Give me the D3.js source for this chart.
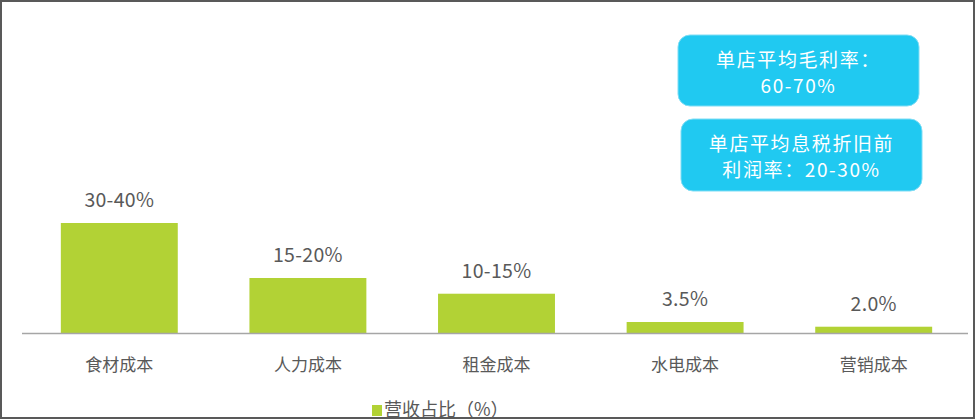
<!DOCTYPE html>
<html>
<head>
<meta charset="utf-8">
<script src="https://cdn.jsdelivr.net/npm/d3@7"></script>
<style>
  html, body { margin: 0; padding: 0; background: #fff; }
  svg { display: block; font-family: "Noto Sans CJK SC", "Noto Sans", sans-serif; }
</style>
</head>
<body>
<svg id="chart" width="977" height="420"></svg>
<script>
const categories = ["食材成本", "人力成本", "租金成本", "水电成本", "营销成本"];
const values = [35, 17.5, 12.5, 3.5, 2.0];
const valueLabels = ["30-40%", "15-20%", "10-15%", "3.5%", "2.0%"];
const seriesName = "营收占比（%）";
const noteLines = [["单店平均毛利率：", "60-70%"], ["单店平均息税折旧前", "利润率：20-30%"]];

const svg = d3.select("#chart");
const baseY = 333;

const x = d3.scaleBand().domain(categories).range([25, 968]).paddingInner(0.38).paddingOuter(0.19);
const y = d3.scaleLinear().domain([0, 35]).range([baseY, 223]);

// frame
svg.append("rect").attr("x", 1).attr("y", 1).attr("width", 973).attr("height", 417)
  .attr("fill", "none").attr("stroke", "#595959").attr("stroke-width", 2);

// bars
svg.append("g").selectAll("rect").data(values).join("rect")
  .attr("x", (d, i) => x(categories[i]))
  .attr("y", d => y(d))
  .attr("width", x.bandwidth())
  .attr("height", d => y(0) - y(d))
  .attr("fill", "#B2D235");

// value labels
svg.append("g").selectAll("text").data(values).join("text")
  .attr("x", (d, i) => x(categories[i]) + x.bandwidth() / 2)
  .attr("y", d => y(d) - 16)
  .attr("text-anchor", "middle")
  .attr("font-size", 19.5)
  .attr("letter-spacing", 0.3)
  .attr("fill", "#595959")
  .text((d, i) => valueLabels[i]);

// x axis
const axis = svg.append("g").attr("transform", `translate(0,${baseY})`)
  .call(d3.axisBottom(x).tickSize(0).tickSizeOuter(0).tickPadding(0));
axis.select(".domain").attr("stroke", "#A6A6A6").attr("stroke-width", 1.5)
  .attr("d", "M22,0.5H968");
axis.selectAll(".tick text")
  .attr("dy", null).attr("y", 38)
  .attr("font-size", 17)
  .attr("font-family", "\"Noto Sans CJK SC\", sans-serif")
  .attr("fill", "#595959");

// legend
const lg = svg.append("g");
lg.append("rect").attr("x", 372).attr("y", 405).attr("width", 10).attr("height", 11).attr("fill", "#B2D235");
lg.append("text").attr("x", 384).attr("y", 416).attr("font-size", 18).attr("fill", "#595959").text(seriesName);

// note boxes
const boxes = [
  { x: 678, y: 35, w: 241, h: 71 },
  { x: 681, y: 119, w: 241, h: 72 }
];
boxes.forEach((b, i) => {
  const g = svg.append("g");
  g.append("rect").attr("x", b.x).attr("y", b.y).attr("width", b.w).attr("height", b.h)
    .attr("rx", 12).attr("ry", 12)
    .attr("fill", "#20C9F1").attr("stroke", "#7FDDF5").attr("stroke-width", 1);
  g.selectAll("text").data(noteLines[i]).join("text")
    .attr("x", b.x + b.w / 2)
    .attr("y", (d, j) => b.y + 32 + j * 26)
    .attr("text-anchor", "middle")
    .attr("font-size", 19)
    .attr("letter-spacing", 1.6)
    .attr("fill", "#ffffff")
    .text(d => d);
});
</script>
</body>
</html>
